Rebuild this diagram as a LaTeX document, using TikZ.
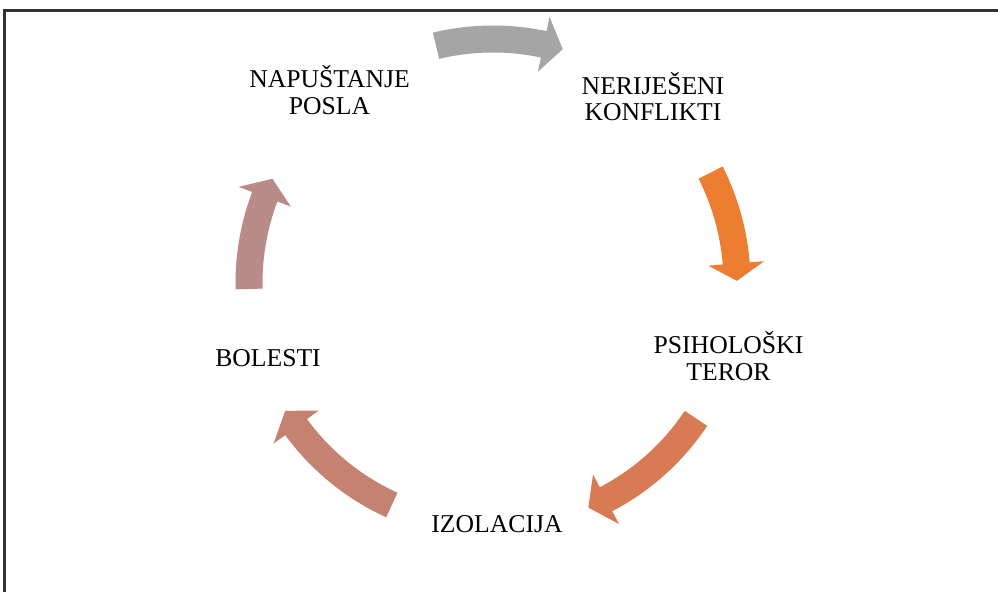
\documentclass[tikz,border=0pt]{standalone}
\usepackage{fontspec}
\setmainfont{Liberation Serif}
\newcommand{\Rout}{5.15}
\newcommand{\Rin}{4.61}
\newcommand{\Rmid}{4.88}
\newcommand{\Rbo}{5.44}
\newcommand{\Rbi}{4.32}
% tail angle, head base angle, tip angle, colour
\newcommand{\cycarrow}[4]{%
  \fill[#4] (#1:\Rout) arc[start angle=#1, end angle=#2, radius=\Rout]
    -- (#2:\Rbo) -- (#3:\Rmid) -- (#2:\Rbi) -- (#2:\Rin)
    arc[start angle=#2, end angle=#1, radius=\Rin] -- cycle;}
\definecolor{arrgray}{HTML}{A5A5A5}
\definecolor{arrorange}{HTML}{ED7D31}
\definecolor{arrrust}{HTML}{D87A54}
\definecolor{arrsalmon}{HTML}{C68271}
\definecolor{arrmauve}{HTML}{B98C89}
\begin{document}
\begin{tikzpicture}[
    label/.style={align=center, inner sep=0pt, font=\fontsize{14.6}{15}\selectfont}]
  \useasboundingbox (0,0) rectangle (19.96,-11.84);
  \clip (0,0) rectangle (19.96,-11.84);
  % Frame
  \draw[black!80, line width=1.2pt] (0.09,-12.5) |- (20.5,-0.21);

  % Nodes
  \node[label] (napustanje) at (6.59, -1.80) {NAPUŠTANJE\\POSLA};
  \node[label] (konflikti) at (13.06, -1.93) {NERIJEŠENI\\KONFLIKTI};
  \node[label] (teror) at (14.57, -7.12) {PSIHOLOŠKI\\TEROR};
  \node[label] (izolacija) at (9.94, -10.48) {IZOLACIJA};
  \node[label] (bolesti) at (5.36, -7.16) {BOLESTI};

  % Arrows
  \begin{scope}[shift={(9.86,-5.66)}]
    \cycarrow{103.5}{78.0}{73.4}{arrgray}
    \cycarrow{26.9}{4.6}{0.5}{arrorange}
    \cycarrow{-33.7}{-62.4}{-67.0}{arrrust}
    \cycarrow{245.5}{216.2}{211.6}{arrsalmon}
    \cycarrow{181.4}{159.3}{154.7}{arrmauve}
  \end{scope}
\end{tikzpicture}
\end{document}
